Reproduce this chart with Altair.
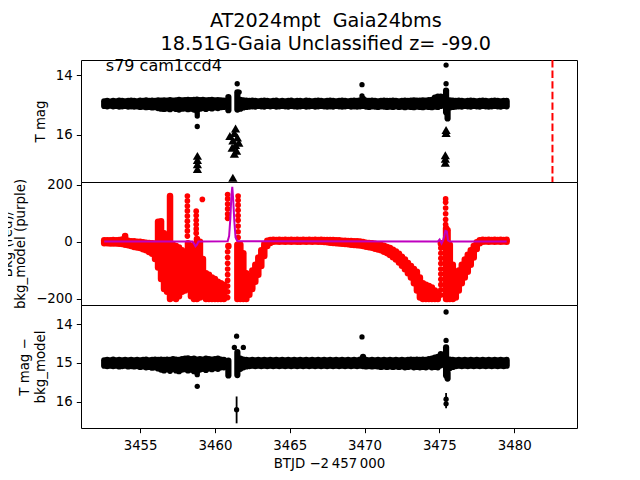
import altair as alt
import pandas as pd

# ---------------- data ----------------
# observation times (BTJD - 2457000) used for the dense bands
T_A = [3452.6, 3452.8, 3453.0, 3453.2, 3453.4, 3453.6, 3453.8, 3454.0, 3454.2, 3454.4,
       3454.6, 3454.8, 3455.0, 3455.2, 3455.4, 3455.6, 3455.8, 3456.0, 3456.2, 3456.4,
       3456.6, 3456.8, 3457.0, 3457.2, 3457.4, 3457.6, 3457.8, 3458.0, 3458.2, 3458.4,
       3458.6, 3458.8, 3459.0, 3459.2, 3459.4, 3459.6, 3459.8, 3460.0, 3460.2, 3460.4,
       3460.6, 3460.9, 3461.5]
T_B = [3461.7, 3461.9, 3462.1, 3462.3, 3462.5, 3462.7, 3462.9, 3463.1, 3463.3, 3463.5,
       3463.7, 3463.9, 3464.1, 3464.3, 3464.5, 3464.7, 3464.9, 3465.1, 3465.3, 3465.5,
       3465.7, 3465.9, 3466.1, 3466.3, 3466.5, 3466.7, 3466.9, 3467.1, 3467.3, 3467.5,
       3467.7, 3467.9, 3468.1, 3468.3, 3468.5, 3468.7, 3468.9, 3469.1, 3469.3, 3469.5,
       3469.7, 3469.9, 3470.1, 3470.3, 3470.5, 3470.7, 3470.9, 3471.1, 3471.3, 3471.5,
       3471.7, 3471.9, 3472.1, 3472.3, 3472.5, 3472.7, 3472.9, 3473.1, 3473.3, 3473.5,
       3473.7, 3473.9, 3474.1, 3474.3, 3474.5, 3474.7, 3474.9,
       3475.1, 3475.45, 3475.55]
T_C = [3475.7, 3475.9, 3476.1, 3476.3, 3476.5, 3476.7, 3476.9, 3477.1, 3477.3, 3477.5,
       3477.7, 3477.9, 3478.1, 3478.3, 3478.5, 3478.7, 3478.9, 3479.1, 3479.3, 3479.5]

# T mag band: bright edge / faint edge of the scatter at each time
TMAG_LO = [14.88, 14.87, 14.89, 14.87, 14.88, 14.86, 14.87, 14.88, 14.87, 14.86,
           14.87, 14.88, 14.86, 14.87, 14.85, 14.87, 14.86, 14.87, 14.85, 14.86,
           14.85, 14.86, 14.84, 14.86, 14.85, 14.83, 14.85, 14.84, 14.83, 14.84,
           14.83, 14.82, 14.84, 14.83, 14.85, 14.84, 14.83, 14.85, 14.84, 14.85,
           14.86, 14.74, 14.58,
           14.83, 14.85, 14.86, 14.87, 14.86, 14.87, 14.88, 14.87, 14.86, 14.87,
           14.88, 14.87, 14.86, 14.88, 14.87, 14.88, 14.87, 14.86, 14.88, 14.87,
           14.87, 14.88, 14.86, 14.87, 14.88, 14.87, 14.86, 14.87, 14.88, 14.87,
           14.86, 14.87, 14.88, 14.87, 14.86, 14.87, 14.88, 14.87, 14.86, 14.87,
           14.85, 14.80, 14.86, 14.87, 14.86, 14.87, 14.88, 14.87, 14.86, 14.87,
           14.87, 14.86, 14.87, 14.88, 14.87, 14.86, 14.87, 14.86, 14.85, 14.86,
           14.86, 14.85, 14.86, 14.84, 14.83, 14.76, 14.72,
           14.72, 14.52, 15.20,
           14.85, 14.86, 14.87, 14.86, 14.87, 14.88, 14.87, 14.86, 14.87, 14.88,
           14.87, 14.86, 14.87, 14.88, 14.87, 14.86, 14.87, 14.88, 14.87, 14.87]
TMAG_HI = [15.04, 15.05, 15.03, 15.05, 15.04, 15.06, 15.05, 15.04, 15.06, 15.05,
           15.06, 15.05, 15.07, 15.06, 15.08, 15.07, 15.09, 15.08, 15.11, 15.13,
           15.14, 15.12, 15.15, 15.11, 15.14, 15.16, 15.13, 15.12, 15.15, 15.13,
           15.16, 15.20, 15.13, 15.11, 15.14, 15.10, 15.12, 15.09, 15.11, 15.08,
           15.07, 15.18, 15.16,
           15.13, 15.09, 15.07, 15.06, 15.05, 15.06, 15.04, 15.05, 15.06, 15.04,
           15.05, 15.04, 15.06, 15.05, 15.04, 15.05, 15.06, 15.04, 15.05, 15.06,
           15.05, 15.04, 15.06, 15.05, 15.04, 15.06, 15.05, 15.04, 15.05, 15.06,
           15.05, 15.06, 15.04, 15.05, 15.06, 15.05, 15.04, 15.06, 15.05, 15.06,
           15.05, 15.04, 15.06, 15.07, 15.05, 15.06, 15.07, 15.05, 15.06, 15.07,
           15.06, 15.07, 15.05, 15.07, 15.06, 15.08, 15.06, 15.07, 15.08, 15.06,
           15.07, 15.08, 15.06, 15.07, 15.08, 15.06, 15.07,
           15.04, 15.25, 15.46,
           15.09, 15.07, 15.06, 15.05, 15.06, 15.04, 15.05, 15.06, 15.04, 15.05,
           15.06, 15.04, 15.05, 15.06, 15.05, 15.04, 15.05, 15.06, 15.04, 15.05]

# background flux band (red): upper / lower edge at each time
BKG_HI = [5, 5, 5, 6, 5, 6, 8, 20, 4, 2,
          2, 0, 0, -2, -3, -4, -5, -6, 70, 72,
          30, 20, 160, -10, -15, -20, -30, -40, -5, -25,
          -10, 10, 0, -60, -110, -115, -125, -130, -140, -145,
          -150, -15, -10,
          -10, -40, -110, -120, -100, -80, -55, -30, -8, 4,
          6, 7, 6, 7, 6, 7, 6, 7, 6, 7,
          6, 7, 6, 7, 6, 7, 6, 7, 6, 6,
          6, 6, 5, 5, 4, 4, 3, 3, 2, 2,
          1, -1, -3, -4, -5, -7, -9, -11, -14, -18,
          -22, -28, -34, -42, -52, -62, -74, -85, -95, -105,
          -125, -145, -150, -155, -160, -170, -178,
          -5, 47, 40,
          -10, -80, -110, -100, -80, -62, -45, -30, -15, -2,
          5, 7, 6, 7, 6, 7, 6, 7, 6, 7]
BKG_LO = [-5, -5, -6, -6, -6, -7, -8, -10, -12, -15,
          -18, -20, -22, -26, -30, -36, -42, -60, -90, -130,
          -165, -175, -200, -195, -200, -190, -175, -170, -165, -190,
          -200, -200, -195, -190, -200, -200, -200, -200, -200, -200,
          -200, -16, -200,
          -200, -200, -200, -185, -165, -140, -115, -85, -50, -15,
          -4, 0, 1, 0, 1, 0, 1, 0, 1, 0,
          0, 1, 0, 1, 0, 1, 0, 0, -1, -2,
          -3, -4, -5, -6, -7, -8, -9, -10, -11, -12,
          -13, -15, -17, -19, -21, -24, -27, -30, -35, -40,
          -46, -54, -62, -72, -84, -96, -110, -125, -145, -170,
          -195, -200, -200, -200, -200, -200, -200,
          -6, -200, -200,
          -200, -200, -195, -170, -145, -125, -105, -80, -55, -25,
          -5, 0, 1, 0, 1, 0, 1, 0, 1, 0]

# T mag - bkg_model band
CORR_LO = [14.93, 14.92, 14.93, 14.91, 14.93, 14.92, 14.93, 14.92, 14.93, 14.92,
           14.93, 14.92, 14.93, 14.92, 14.91, 14.93, 14.92, 14.91, 14.92, 14.91,
           14.92, 14.91, 14.92, 14.90, 14.91, 14.92, 14.90, 14.89, 14.88, 14.90,
           14.89, 14.91, 14.90, 14.91, 14.89, 14.90, 14.91, 14.90, 14.89, 14.91,
           14.92, 14.94, 14.72,
           14.89, 14.91, 14.92, 14.93, 14.92, 14.93, 14.92, 14.93, 14.92, 14.93,
           14.92, 14.93, 14.92, 14.93, 14.92, 14.93, 14.92, 14.93, 14.92, 14.93,
           14.92, 14.93, 14.92, 14.93, 14.92, 14.93, 14.92, 14.93, 14.92, 14.93,
           14.92, 14.93, 14.92, 14.93, 14.92, 14.93, 14.92, 14.93, 14.92, 14.93,
           14.91, 14.84, 14.92, 14.93, 14.92, 14.93, 14.92, 14.93, 14.92, 14.93,
           14.92, 14.93, 14.92, 14.93, 14.92, 14.93, 14.92, 14.91, 14.92, 14.91,
           14.92, 14.91, 14.92, 14.90, 14.89, 14.86, 14.84,
           14.77, 14.60, 15.25,
           14.91, 14.92, 14.93, 14.92, 14.93, 14.92, 14.93, 14.92, 14.93, 14.92,
           14.93, 14.92, 14.93, 14.92, 14.93, 14.92, 14.93, 14.92, 14.93, 14.92]
CORR_HI = [15.07, 15.08, 15.07, 15.08, 15.07, 15.09, 15.08, 15.07, 15.09, 15.08,
           15.09, 15.08, 15.10, 15.09, 15.11, 15.10, 15.12, 15.11, 15.14, 15.17,
           15.19, 15.16, 15.20, 15.15, 15.19, 15.21, 15.17, 15.16, 15.19, 15.17,
           15.21, 15.24, 15.17, 15.15, 15.18, 15.14, 15.16, 15.13, 15.15, 15.11,
           15.11, 15.32, 15.31,
           15.15, 15.11, 15.09, 15.08, 15.07, 15.08, 15.07, 15.08, 15.07, 15.08,
           15.07, 15.08, 15.07, 15.08, 15.07, 15.08, 15.07, 15.08, 15.07, 15.08,
           15.07, 15.08, 15.07, 15.08, 15.07, 15.08, 15.07, 15.08, 15.07, 15.08,
           15.07, 15.08, 15.07, 15.08, 15.07, 15.08, 15.07, 15.08, 15.07, 15.08,
           15.07, 15.08, 15.09, 15.08, 15.09, 15.08, 15.09, 15.10, 15.09, 15.10,
           15.09, 15.10, 15.09, 15.10, 15.09, 15.11, 15.10, 15.09, 15.11, 15.10,
           15.11, 15.10, 15.11, 15.09, 15.11, 15.10, 15.11,
           15.06, 15.32, 15.40,
           15.13, 15.10, 15.08, 15.07, 15.08, 15.07, 15.08, 15.07, 15.08, 15.07,
           15.08, 15.07, 15.08, 15.07, 15.08, 15.07, 15.08, 15.07, 15.08, 15.07]

# isolated T mag points
TMAG_PT_T = [3458.82, 3458.82, 3458.82, 3461.49, 3461.62, 3469.83, 3469.83, 3475.45, 3475.45]
TMAG_PT_V = [15.30, 15.38, 15.73, 14.29, 14.57, 14.32, 14.70, 13.66, 14.29]

# upper limits (triangles)
LIM_T = [3458.83, 3458.83, 3458.83, 3458.83,
         3461.38, 3461.30, 3461.00, 3461.50, 3461.20, 3461.60, 3461.38, 3461.15, 3461.45,
         3461.30, 3461.20,
         3475.45, 3475.45, 3475.40, 3475.40, 3475.40]
LIM_V = [16.72, 16.86, 17.00, 17.16,
         15.80, 15.95, 16.05, 16.10, 16.20, 16.28, 16.35, 16.45, 16.55,
         16.65, 17.46,
         15.85, 15.95, 16.70, 16.82, 16.95]

# isolated background points (dotted columns)
BKG_PT_T = [3458.16] * 9 + [3458.75] * 6 + [3459.16] + [3460.85] * 15 + [3461.55] * 9 + \
           [3475.10] * 10 + [3475.42] * 6
BKG_PT_V = [160, 143, 125, 108, 90, 72, 55, 38, 20,
            107, 92, 75, 60, 45, 30,
            148,
            165, 150, 132, 115, 97, 82, -35, -55, -75, -95, -115, -135, -155, -175, -195,
            160, 145, 128, 110, 92, 75, 55, 35, 15,
            -22, -40, -58, -76, -95, -113, -131, -150, -168, -186,
            150, 138, 118, 98, 78, 60]

# background model (purple line)
MODEL_T = [3452.6, 3458.5, 3458.62, 3458.7, 3458.8, 3458.9, 3460.85, 3460.95, 3461.03,
           3461.1, 3461.16, 3461.22, 3461.3, 3461.38, 3461.5, 3474.9, 3475.02, 3475.15,
           3475.25, 3475.33, 3475.4, 3475.5, 3475.58, 3475.7, 3479.5]
MODEL_V = [1, 1, -8, -16, -10, 1, 2, 20, 80, 160, 192, 150, 70, 15, 2, 1, 8, -6, 5,
           20, 38, 36, 5, 1, 1]

# isolated corrected points and error bars
CORR_PT_T = [3458.82, 3458.82, 3461.30, 3461.45, 3461.90, 3469.83, 3475.45, 3475.45,
             3461.45, 3475.45, 3475.45]
CORR_PT_V = [15.30, 15.60, 14.60, 14.31, 14.60, 14.33, 13.69, 14.42, 16.20, 15.93, 16.05]
ERR_T = [3461.45, 3475.45]
ERR_LO = [15.86, 15.77]
ERR_HI = [16.55, 16.16]

EVENT_T = [3482.56]
LABEL = ["s79 cam1ccd4"]
LABEL_T = [3452.71]
LABEL_V = [13.857]

X_TICKS = [3455, 3460, 3465, 3470, 3475, 3480]

# ---------------- chart ----------------
FONT = "DejaVu Sans"
T_ALL = T_A + T_B + T_C
band = pd.DataFrame({"t": T_ALL, "m_lo": TMAG_LO, "m_hi": TMAG_HI,
                     "b_hi": BKG_HI, "b_lo": BKG_LO, "c_lo": CORR_LO, "c_hi": CORR_HI})

xs = alt.Scale(domain=[3451.05, 3484.2], nice=False, zero=False)
ys_top = alt.Scale(domain=[17.6, 13.49], nice=False, zero=False)
ys_mid = alt.Scale(domain=[-221, 209], nice=False, zero=False)
ys_bot = alt.Scale(domain=[16.67, 13.51], nice=False, zero=False)


def yaxis(title, values, line_h=16):
    return alt.Axis(title=title, values=values, grid=False, domain=False,
                    tickSize=4.7, tickColor="black", tickWidth=1,
                    labelFont=FONT, labelFontSize=13.33, labelColor="black", labelPadding=4,
                    titleFont=FONT, titleFontSize=13.33, titleFontWeight="normal",
                    titleColor="black", titlePadding=8, titleLineHeight=line_h,
                    labelExpr="replace(datum.label, '-', '\u2212')")


xnone = alt.X("t:Q", scale=xs, axis=None)
W = 496
DOT_W = 6.2

# top panel
top_band = alt.Chart(band).mark_rule(color="black", strokeWidth=DOT_W, strokeCap="round").encode(
    x=xnone, y=alt.Y("m_lo:Q", scale=ys_top, axis=yaxis("T mag", [14, 16])), y2="m_hi:Q")
top_pts = alt.Chart(pd.DataFrame({"t": TMAG_PT_T, "v": TMAG_PT_V})).mark_circle(
    color="black", size=28, opacity=1).encode(x=xnone, y=alt.Y("v:Q", scale=ys_top))
top_lim = alt.Chart(pd.DataFrame({"t": LIM_T, "v": LIM_V})).mark_point(
    shape="triangle-up", filled=True, color="black", size=85, opacity=1).encode(
    x=xnone, y=alt.Y("v:Q", scale=ys_top))
top_evt = alt.Chart(pd.DataFrame({"t": EVENT_T})).mark_rule(
    color="red", strokeWidth=2, strokeDash=[7.4, 3.2]).encode(x=xnone)
top_txt = alt.Chart(pd.DataFrame({"t": LABEL_T, "v": LABEL_V, "s": LABEL})).mark_text(
    align="left", baseline="alphabetic", font=FONT, fontSize=16, color="black").encode(
    x=xnone, y=alt.Y("v:Q", scale=ys_top), text="s:N")
top = alt.layer(top_band, top_pts, top_lim, top_evt, top_txt).properties(width=W, height=122)

# middle panel
mid_band = alt.Chart(band).mark_rule(color="#ff0000", strokeWidth=6.5, strokeCap="round").encode(
    x=xnone, y=alt.Y("b_hi:Q", scale=ys_mid,
                     axis=yaxis(["Bkg (red)/", "bkg_model (purple)"], [-200, 0, 200], 13)),
    y2="b_lo:Q")
mid_pts = alt.Chart(pd.DataFrame({"t": BKG_PT_T, "v": BKG_PT_V})).mark_circle(
    color="#ff0000", size=32, opacity=1).encode(x=xnone, y=alt.Y("v:Q", scale=ys_mid))
mid_model = alt.Chart(pd.DataFrame({"t": MODEL_T, "v": MODEL_V})).mark_line(
    color="#bf00bf", strokeWidth=2).encode(x=xnone, y=alt.Y("v:Q", scale=ys_mid))
mid = alt.layer(mid_band, mid_pts, mid_model).properties(width=W, height=123)

# bottom panel
xbot = alt.X("t:Q", scale=xs, axis=alt.Axis(
    title="BTJD \u22122\u2009457\u2009000", values=X_TICKS, format="d", grid=False, domain=False,
    tickSize=4.7, tickColor="black", labelFont=FONT, labelFontSize=13.33, labelColor="black",
    labelPadding=6, titleFont=FONT, titleFontSize=13.33, titleFontWeight="normal",
    titleColor="black", titlePadding=4))
bot_band = alt.Chart(band).mark_rule(color="black", strokeWidth=DOT_W, strokeCap="round").encode(
    x=xbot, y=alt.Y("c_lo:Q", scale=ys_bot,
                    axis=yaxis(["T mag \u2212", "bkg_model"], [14, 15, 16])), y2="c_hi:Q")
bot_err = alt.Chart(pd.DataFrame({"t": ERR_T, "lo": ERR_LO, "hi": ERR_HI})).mark_rule(
    color="black", strokeWidth=1.8).encode(x=xbot, y=alt.Y("lo:Q", scale=ys_bot), y2="hi:Q")
bot_pts = alt.Chart(pd.DataFrame({"t": CORR_PT_T, "v": CORR_PT_V})).mark_circle(
    color="black", size=28, opacity=1).encode(x=xbot, y=alt.Y("v:Q", scale=ys_bot))
bot = alt.layer(bot_band, bot_err, bot_pts).properties(width=W, height=123)

chart = alt.vconcat(top, mid, bot, spacing=0, bounds="flush").properties(
    title=alt.TitleParams(["AT2024mpt \u00a0Gaia24bms", "18.51G-Gaia Unclassified z= -99.0"],
                          font=FONT, fontSize=19.2, fontWeight="normal", color="black",
                          anchor="middle", offset=3, lineHeight=23, dx=37),
    padding={"left": -8, "top": 4, "right": 5, "bottom": 5},
).configure_view(stroke="black", strokeWidth=1).configure_concat(spacing=0)

chart.save("out.html", embed_options={"renderer": "svg", "actions": False})
